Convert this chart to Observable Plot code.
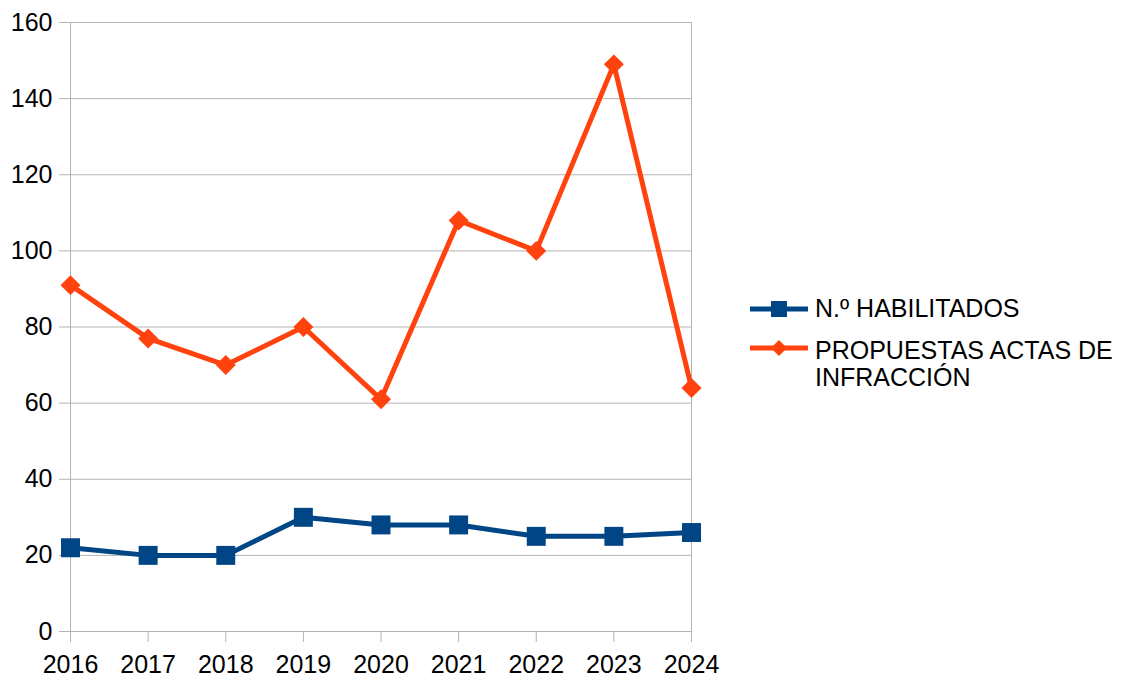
<!DOCTYPE html>
<html>
<head>
<meta charset="utf-8">
<script src="https://cdn.jsdelivr.net/npm/d3@7"></script>
<script src="https://cdn.jsdelivr.net/npm/@observablehq/plot@0.6"></script>
<style>
  html, body { margin: 0; padding: 0; background: #fff; }
  #wrap { position: relative; width: 1122px; height: 680px; font-family: "Liberation Sans", Arial, sans-serif; }
  #wrap svg { position: absolute; left: 0; top: 0; }
  .lg { position: absolute; font-size: 25px; line-height: 27px; color: #000; white-space: nowrap; }
  .sw { position: absolute; }
</style>
</head>
<body>
<div id="wrap"></div>
<script>
const years = [2016, 2017, 2018, 2019, 2020, 2021, 2022, 2023, 2024];
const habilitados = [22, 20, 20, 30, 28, 28, 25, 25, 26];
const propuestas = [91, 77, 70, 80, 61, 108, 100, 149, 64];
const seriesNames = ["N.º HABILITADOS", "PROPUESTAS ACTAS DE INFRACCIÓN"];
const seriesColors = ["#004586", "#ff420e"];
const yTicks = [0, 20, 40, 60, 80, 100, 120, 140, 160];

const dataH = years.map((y, i) => ({year: y, value: habilitados[i]}));
const dataP = years.map((y, i) => ({year: y, value: propuestas[i]}));

const grid = "#b3b3b3";
const chart = Plot.plot({
  width: 1122,
  height: 680,
  marginLeft: 70,
  marginRight: 431,
  marginTop: 22,
  marginBottom: 49,
  style: {fontFamily: '"Liberation Sans", Arial, sans-serif', fontSize: "25px", color: "#000", background: "transparent"},
  x: {type: "point", domain: years, padding: 0, round: false},
  y: {domain: [0, 160]},
  marks: [
    Plot.gridY(yTicks, {stroke: grid, strokeOpacity: 1}),
    Plot.frame({stroke: grid}),
    Plot.axisY(yTicks, {tickSize: 11, tickPadding: 7, stroke: grid, fill: "#000", label: null, fontSize: 25}),
    Plot.axisX(years, {tickSize: 11, tickPadding: 13, stroke: grid, fill: "#000", label: null, fontSize: 25, tickFormat: d => String(d)}),
    Plot.line(dataH, {x: "year", y: "value", stroke: seriesColors[0], strokeWidth: 5}),
    Plot.dot(dataH, {x: "year", y: "value", symbol: "square", r: 10.7, fill: seriesColors[0], stroke: "none"}),
    Plot.line(dataP, {x: "year", y: "value", stroke: seriesColors[1], strokeWidth: 5}),
    Plot.dot(dataP, {x: "year", y: "value", symbol: "diamond2", r: 9, fill: seriesColors[1], stroke: "none"})
  ]
});
const wrap = document.getElementById("wrap");
wrap.appendChild(chart);

// Legend
function swatch(top, color, kind) {
  const ns = "http://www.w3.org/2000/svg";
  const s = document.createElementNS(ns, "svg");
  s.setAttribute("width", 60); s.setAttribute("height", 20);
  s.setAttribute("class", "sw");
  s.style.left = "749px"; s.style.top = (top - 10) + "px";
  const l = document.createElementNS(ns, "line");
  l.setAttribute("x1", 1); l.setAttribute("x2", 59); l.setAttribute("y1", 10); l.setAttribute("y2", 10);
  l.setAttribute("stroke", color); l.setAttribute("stroke-width", 5);
  s.appendChild(l);
  if (kind === "square") {
    const r = document.createElementNS(ns, "rect");
    r.setAttribute("x", 22); r.setAttribute("y", 2); r.setAttribute("width", 16); r.setAttribute("height", 16);
    r.setAttribute("fill", color); s.appendChild(r);
  } else {
    const p = document.createElementNS(ns, "path");
    p.setAttribute("d", "M30,2 L38,10 L30,18 L22,10 Z");
    p.setAttribute("fill", color); s.appendChild(p);
  }
  wrap.appendChild(s);
}
swatch(309, seriesColors[0], "square");
swatch(348, seriesColors[1], "diamond");
const t1 = document.createElement("div");
t1.className = "lg"; t1.style.left = "815px"; t1.style.top = "295px";
t1.textContent = seriesNames[0];
wrap.appendChild(t1);
const t2 = document.createElement("div");
t2.className = "lg"; t2.style.left = "815px"; t2.style.top = "337px";
t2.innerHTML = "PROPUESTAS ACTAS DE<br>INFRACCIÓN";
wrap.appendChild(t2);
</script>
</body>
</html>
